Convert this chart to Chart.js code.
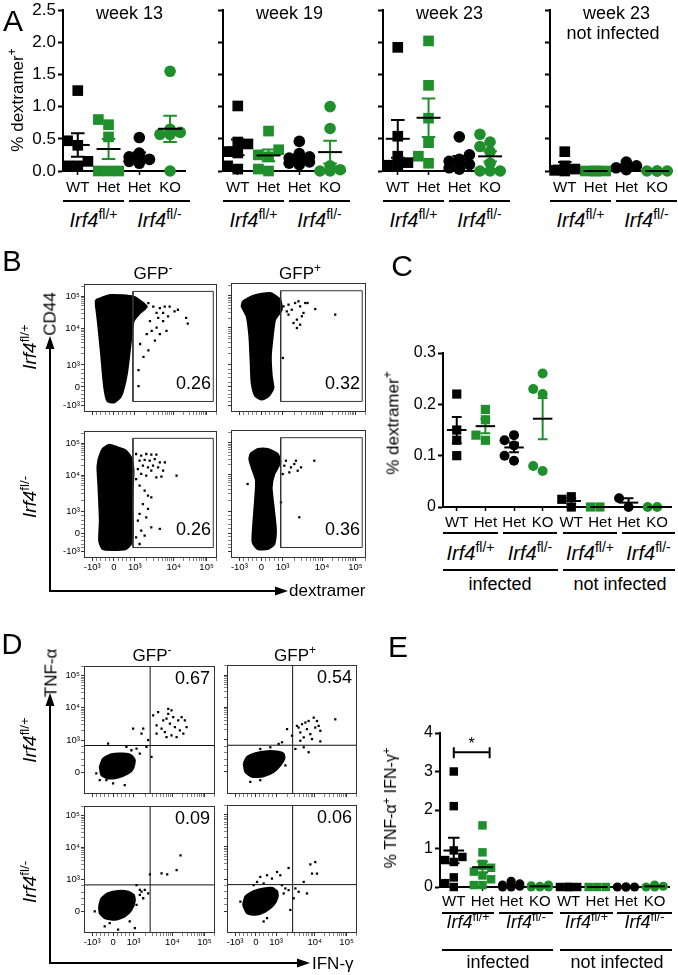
<!DOCTYPE html>
<html>
<head>
<meta charset="utf-8">
<title>Irf4 dextramer</title>
<script src="https://cdn.jsdelivr.net/npm/chart.js@4.4.1/dist/chart.umd.min.js"></script>
<style>
  body { margin: 0; background: #fff; }
  #fig { position: relative; width: 678px; height: 975px; overflow: hidden; background: #fff;
         font-family: 'Liberation Sans', Arial, sans-serif; color: #000; }
  #fig canvas { position: absolute; }
  .t { position: absolute; white-space: nowrap; line-height: 1; }
  .sup { font-size: 0.7em; position: relative; top: -0.55em; }
</style>
</head>
<body>
<div id="fig"></div>
<script>
// ---------- data ----------
const catsA = ['WT', 'Het', 'Het', 'KO'];
const titlesA = ['week 13', 'week 19', 'week 23', 'week 23'];
const yTicksA = [0, 0.5, 1, 1.5, 2, 2.5];
const week13 = [[1.25, 0.47, 0.40, 0.15, 0.08, 0.08], [0.80, 0.72, 0.53, 0, 0, 0],
                [0.52, 0.28, 0.22, 0.20, 0.18, 0.15, 0.12], [1.55, 0.65, 0.60, 0.57, 0.57, 0]];
const week19 = [[1.01, 0.45, 0.42, 0.30, 0.28, 0.08, 0.03], [0.62, 0.33, 0.25, 0.22, 0.03, 0],
                [0.46, 0.27, 0.22, 0.20, 0.17, 0.14, 0.12, 0.10], [1.00, 0.66, 0.08, 0.02, 0, 0]];
const week23 = [[1.92, 0.54, 0.23, 0.13, 0.09, 0.09], [2.02, 1.33, 0.82, 0.44, 0.23, 0.12],
                [0.53, 0.25, 0.18, 0.15, 0.12, 0.10, 0.05, 0.03], [0.57, 0.45, 0.38, 0.30, 0.12, 0, 0, 0]];
const week23ni = [[0.30, 0.08, 0.03, 0.01, 0], [0, 0, 0, 0], [0.14, 0.08, 0.05, 0.02], [0, 0, 0, 0]];

const catsCE = ['WT', 'Het', 'Het', 'KO', 'WT', 'Het', 'Het', 'KO'];
const yTicksC = [0, 0.1, 0.2, 0.3];
const dexC = [[0.22, 0.15, 0.13, 0.10], [0.19, 0.17, 0.14, 0.13], [0.14, 0.13, 0.12, 0.10, 0.09],
              [0.26, 0.23, 0.22, 0.08, 0.07], [0.02, 0.015, 0], [0, 0], [0.017, 0], [0, 0]];
const yTicksE = [0, 1, 2, 3, 4];
const tnfE = [[3.0, 2.1, 0.95, 0.78, 0.70, 0.65, 0.25, 0.10, 0], [1.6, 0.9, 0.6, 0.55, 0.5, 0.4, 0.3, 0.2, 0.05, 0.05],
              [0.15, 0.08, 0.05, 0.03, 0.02, 0, 0], [0.05, 0.03, 0.02, 0, 0, 0],
              [0, 0, 0, 0], [0, 0, 0], [0, 0, 0, 0], [0.05, 0.02, 0, 0]];
const sigE = {from: 0, to: 1.25, y: 3.5, text: '*'};

// flow plots, display channel units 0-1000
const flowTickText = ['-10\u00b3', '0', '10\u00b3', '10\u2074', '10\u2075'];
const bAxisX = [62, 225, 382, 675, 922];
const bAxisY = [51, 195, 367, 652, 902];
const dAxisX = [62, 222, 378, 675, 920];
const dAxisY = [null, 171, 420, 673, 922];
const gateB = [368, 972, 82, 940];
const quadD = [505, 378];
const pctB = ['0.26', '0.32', '0.26', '0.36'];
const pctD = ['0.67', '0.54', '0.09', '0.06'];

const blobB1 = [[89,873],[200,911],[373,898],[472,822],[422,772],[373,708],[353,556],[323,302],[279,124],[225,74],[175,86],[151,200],[126,480],[101,734],[89,835]];
const dotsB1 = [[410,860],[447,835],[484,848],[521,822],[570,810],[607,822],[681,784],[632,746],[595,708],[558,734],[546,657],[509,632],[472,607],[570,607],[620,632],[533,556],[484,480],[422,530],[447,429],[410,327],[410,201],[644,822],[768,734],[780,688],[496,708],[546,772],[595,772],[706,797]];
const blobB2 = [[87,858],[166,902],[290,922],[364,871],[376,793],[327,716],[309,587],[295,432],[302,276],[314,186],[277,121],[228,96],[178,127],[153,225],[146,380],[136,587],[116,742],[79,819]];
const dotsB2 = [[389,819],[426,832],[450,793],[475,845],[500,858],[512,819],[550,845],[567,845],[537,768],[488,716],[463,690],[512,677],[488,651],[525,742],[624,798],[772,755],[384,419],[426,755],[413,780]];
const blobB3 = [[109,777],[139,856],[190,890],[253,869],[316,843],[354,791],[372,686],[367,555],[362,398],[367,215],[354,110],[316,71],[215,63],[139,71],[114,136],[119,293],[109,555],[101,712]];
const dotsB3 = [[392,817],[430,804],[468,817],[506,812],[544,812],[418,764],[456,770],[494,764],[532,777],[570,751],[608,751],[443,725],[481,712],[519,725],[557,712],[595,686],[405,699],[430,660],[468,647],[506,686],[544,634],[582,639],[392,620],[418,568],[456,529],[481,490],[506,476],[443,424],[418,346],[481,385],[468,319],[405,293],[430,215],[506,241],[570,228],[456,175],[392,162],[418,110],[696,647]];
const blobB4 = [[143,813],[198,852],[272,852],[346,813],[365,747],[321,656],[301,552],[316,396],[333,214],[321,109],[272,70],[198,70],[160,122],[165,266],[178,448],[185,604],[153,708],[136,773]];
const dotsB4 = [[407,760],[444,708],[469,734],[494,682],[519,708],[481,760],[617,760],[432,669],[395,721],[370,435],[506,318],[123,578],[383,656]];

const blobD1 = [[120,212],[145,276],[209,310],[298,315],[362,302],[388,264],[375,199],[337,160],[260,129],[184,121],[133,147]];
const dotsD1 = [[528,612],[566,638],[605,574],[630,587],[643,625],[656,548],[681,599],[694,522],[719,574],[732,496],[745,599],[770,574],[783,522],[592,509],[617,483],[668,457],[707,444],[758,470],[554,535],[643,664],[668,651],[452,509],[439,470],[490,419],[477,367],[515,289],[375,509],[184,393],[324,367],[362,341],[401,354],[426,315],[554,470],[630,444],[171,109],[222,83],[311,70],[120,109],[94,160]];
const blobD2 = [[128,235],[154,286],[218,316],[308,332],[385,329],[436,311],[441,273],[410,222],[359,171],[282,138],[192,133],[141,171]];
const dotsD2 = [[538,528],[577,541],[615,503],[564,477],[590,439],[641,464],[667,592],[692,566],[679,515],[705,528],[718,490],[628,566],[833,579],[654,426],[590,362],[628,324],[500,452],[462,503],[423,401],[397,388],[333,362],[256,349],[449,222],[179,94],[256,107],[526,349],[564,413],[718,408],[603,554],[551,515]];
const blobD3 = [[115,208],[133,273],[184,312],[260,330],[337,325],[380,299],[388,252],[362,182],[311,130],[235,104],[158,117],[120,156]];
const dotsD3 = [[503,460],[592,468],[635,460],[707,494],[737,610],[490,312],[464,338],[439,325],[401,377],[426,299],[452,273],[82,169],[158,52],[388,39],[260,26],[401,221],[196,78],[349,91],[426,338]];
const blobD4 = [[123,219],[141,284],[205,327],[282,348],[346,353],[385,327],[390,284],[359,219],[295,168],[218,142],[154,155]];
const dotsD4 = [[256,438],[308,451],[346,425],[385,477],[410,451],[423,374],[449,348],[474,335],[526,348],[551,322],[615,309],[590,399],[641,536],[679,554],[654,464],[692,464],[474,508],[282,387],[231,399],[205,374],[487,180],[308,116],[282,90],[103,245],[436,309],[513,271]];

// ---------- helpers ----------
const FONT = "'Liberation Sans', Arial, 'DejaVu Sans', sans-serif";
const GREEN = '#1e8f2a';
const fig = document.getElementById('fig');

function makeCanvas(a, pad) {
  const c = document.createElement('canvas');
  const w = a.r - a.l + pad.l + pad.r, h = a.b - a.t + pad.t + pad.b;
  c.width = w; c.height = h;
  c.style.left = (a.l - pad.l) + 'px'; c.style.top = (a.t - pad.t) + 'px';
  c.style.width = w + 'px'; c.style.height = h + 'px';
  fig.appendChild(c);
  return c;
}

function label(html, x, y, size, mode) {
  const d = document.createElement('div');
  d.className = 't';
  d.innerHTML = html;
  d.style.left = x + 'px'; d.style.top = y + 'px'; d.style.fontSize = size + 'px';
  if (mode === 'left') d.style.transform = 'translate(0,-50%)';
  else d.style.transform = 'translate(-50%,-50%)' + (mode === 'rot' ? ' rotate(-90deg)' : '');
  fig.appendChild(d);
}

let svgParts = [];
function uline(x1, x2, y) {
  svgParts.push(`<rect x="${x1}" y="${y - 1}" width="${x2 - x1}" height="2" fill="#000"/>`);
}

// simple beeswarm: spread points that would overlap at the same height
function swarm(vals, d, tol) {
  const idx = vals.map((v, i) => i).sort((a, b) => vals[a] - vals[b]);
  const cands = [0, -d, d, -d / 2, d / 2];
  const placed = [], off = [];
  idx.forEach(i => {
    let best = 0, bestHits = Infinity;
    for (const c of cands) {
      const hits = placed.filter(p => Math.abs(p.v - vals[i]) < tol && Math.abs(p.x - c) < d * 0.95).length;
      if (hits < bestHits) { best = c; bestHits = hits; }
      if (hits === 0) break;
    }
    off[i] = best;
    placed.push({v: vals[i], x: best});
  });
  return off;
}

function meanSem(groups, colors, o) {
  return {
    id: 'meanSem',
    afterDatasetsDraw(chart) {
      const {ctx, scales: {x, y}} = chart;
      const unit = x.getPixelForValue(1) - x.getPixelForValue(0);
      ctx.save();
      ctx.lineWidth = 2;
      groups.forEach((vals, i) => {
        const n = vals.length;
        const m = vals.reduce((a, b) => a + b, 0) / n;
        const se = Math.sqrt(vals.reduce((a, b) => a + (b - m) ** 2, 0) / (n - 1) / n);
        const px = x.getPixelForValue(i);
        const yt = y.getPixelForValue(m + se), yb = y.getPixelForValue(Math.max(0, m - se));
        const cw = o.cw * unit, mw = o.mw * unit;
        ctx.strokeStyle = colors[i];
        ctx.beginPath();
        ctx.moveTo(px, yt); ctx.lineTo(px, yb);
        ctx.moveTo(px - cw, yt); ctx.lineTo(px + cw, yt);
        ctx.moveTo(px - cw, yb); ctx.lineTo(px + cw, yb);
        ctx.stroke();
        ctx.strokeStyle = '#000';
        ctx.beginPath();
        ctx.moveTo(px - mw, y.getPixelForValue(m)); ctx.lineTo(px + mw, y.getPixelForValue(m));
        ctx.stroke();
      });
      ctx.restore();
    }
  };
}

const sigPlugin = {
  id: 'sig',
  afterDatasetsDraw(chart) {
    const {ctx, scales: {x, y}} = chart;
    const x0 = x.getPixelForValue(sigE.from), x1 = x.getPixelForValue(sigE.to), yy = y.getPixelForValue(sigE.y);
    ctx.save();
    ctx.strokeStyle = '#000'; ctx.lineWidth = 2;
    ctx.beginPath();
    ctx.moveTo(x0, yy + 6); ctx.lineTo(x0, yy - 5);
    ctx.moveTo(x0, yy); ctx.lineTo(x1, yy);
    ctx.moveTo(x1, yy + 6); ctx.lineTo(x1, yy - 5);
    ctx.stroke();
    ctx.fillStyle = '#000'; ctx.font = '16px ' + FONT; ctx.textAlign = 'center';
    ctx.fillText(sigE.text, (x0 + x1) / 2, yy - 3);
    ctx.restore();
  }
};

function dotChart(area, cats, groups, o) {
  const pad = {l: o.yLab ? 52 : 10, t: 12, r: 3, b: 30};
  const cv = makeCanvas(area, pad);
  const shapes = cats.map((c, i) => i % 4 < 2 ? 'rect' : 'circle');
  const colors = cats.map((c, i) => i % 2 ? GREEN : '#000');
  const datasets = groups.map((vals, i) => {
    const off = swarm(vals, o.d, o.tol);
    return {
      data: vals.map((v, j) => ({x: i + off[j], y: v})),
      pointStyle: shapes[i],
      pointRadius: shapes[i] === 'rect' ? o.r * 1.3 : o.r,
      backgroundColor: colors[i],
      borderWidth: 0,
      clip: false
    };
  });
  const plugins = [meanSem(groups, colors, o)];
  if (o.sig) plugins.push(sigPlugin);
  new Chart(cv, {
    type: 'scatter',
    data: {datasets},
    options: {
      responsive: false, animation: false, events: [],
      layout: {padding: {left: 0, top: pad.t, right: pad.r, bottom: 0}},
      plugins: {legend: {display: false}, tooltip: {enabled: false}},
      scales: {
        x: {
          type: 'linear', min: -0.48, max: cats.length - 0.5,
          afterBuildTicks: s => { s.ticks = cats.map((c, i) => ({value: i})); },
          afterFit: s => { s.height = pad.b; },
          ticks: {callback: (v, i) => cats[i], autoSkip: false, maxRotation: 0, color: '#000',
                  padding: o.xPad, font: {family: FONT, size: o.xFont}},
          grid: {drawOnChartArea: false, tickLength: 4, tickWidth: 1.5, tickColor: '#000'},
          border: {color: '#000', width: 2}
        },
        y: {
          min: 0, max: o.yTicks[o.yTicks.length - 1],
          afterBuildTicks: s => { s.ticks = o.yTicks.map(v => ({value: v})); },
          afterFit: s => { s.width = pad.l; },
          ticks: {display: o.yLab, callback: o.fmt, color: '#000', padding: 2, font: {family: FONT, size: o.yFont}},
          grid: {drawOnChartArea: false, tickLength: 5, tickWidth: 2, tickColor: '#000'},
          border: {color: '#000', width: 2}
        }
      }
    },
    plugins
  });
}

function flowTicks(pos) {
  const t = [];
  pos.forEach((p, k) => { if (p !== null) t.push({value: p, major: true, lab: flowTickText[k]}); });
  for (let k = 0; k < pos.length - 1; k++) {
    const a = pos[k], b = pos[k + 1];
    if (a === null) continue;
    if (k < 2) [0.2, 0.4, 0.6, 0.8].forEach(f => t.push({value: a + f * (b - a), major: false, lab: ''}));
    else for (let m = 2; m <= 9; m++) t.push({value: a + Math.log10(m) * (b - a), major: false, lab: ''});
  }
  const n = pos.length, dec = pos[n - 1] - pos[n - 2];
  for (let m = 2; m <= 9; m++) {
    const v = pos[n - 1] + Math.log10(m) * dec;
    if (v < 1000) t.push({value: v, major: false, lab: ''});
  }
  return t.sort((p, q) => p.value - q.value);
}

const framePlugin = {
  id: 'frame',
  afterDraw(chart, args, o) {
    const {ctx, chartArea: a} = chart;
    ctx.save();
    ctx.strokeStyle = '#333'; ctx.lineWidth = 1;
    ctx.strokeRect(Math.round(a.left) + 0.5, Math.round(a.top) + 0.5, Math.round(a.right - a.left) - 1, Math.round(a.bottom - a.top) - 1);
    ctx.fillStyle = '#000'; ctx.font = '18px ' + FONT; ctx.textAlign = 'right';
    if (o.top) ctx.fillText(o.pct, a.right - 5, a.top + 18);
    else ctx.fillText(o.pct, a.right - 6, a.bottom - 23);
    ctx.restore();
  }
};

const pts = arr => arr.map(p => ({x: p[0], y: p[1]}));

function flowChart(area, o) {
  const pad = {l: o.yLab ? 36 : 16, t: 6, r: 6, b: o.xLab ? 20 : 8};
  const cv = makeCanvas(area, pad);
  const datasets = [];
  if (o.gate) {
    const g = o.gate;
    datasets.push({data: pts([[g[0], g[2]], [g[1], g[2]], [g[1], g[3]], [g[0], g[3]], [g[0], g[2]]]),
                   borderColor: '#333', borderWidth: 1, pointRadius: 0, fill: false});
  }
  if (o.quad) {
    datasets.push({data: pts([[o.quad[0], 0], [o.quad[0], 1000]]), borderColor: '#111', borderWidth: 1, pointRadius: 0, fill: false});
    datasets.push({data: pts([[0, o.quad[1]], [1000, o.quad[1]]]), borderColor: '#111', borderWidth: 1, pointRadius: 0, fill: false});
  }
  datasets.push({data: pts(o.dots), showLine: false, pointStyle: 'rect', pointRadius: 1.6, backgroundColor: '#000', borderWidth: 0});
  datasets.push({data: pts(o.blob.concat([o.blob[0]])), fill: 'shape', backgroundColor: '#000', borderColor: '#000',
                 borderWidth: 2, tension: 0.2, pointRadius: 0});
  const axis = (pos, isX, showLab) => ({
    type: 'linear', min: 0, max: 1000,
    afterBuildTicks: s => { s.ticks = flowTicks(pos); },
    afterFit: s => { if (isX) s.height = pad.b; else s.width = pad.l; },
    ticks: {display: showLab, autoSkip: false, maxRotation: 0, padding: 1, color: '#000',
            callback: (v, i, t) => t[i].lab, font: {family: FONT, size: 9.5}},
    grid: {drawOnChartArea: false, tickLength: 3, tickColor: '#333',
           tickWidth: c => (c.tick && c.tick.major) ? 1 : 0.6},
    border: {display: false}
  });
  new Chart(cv, {
    type: 'line',
    data: {datasets},
    options: {
      responsive: false, animation: false, events: [],
      layout: {padding: {left: 0, top: pad.t, right: pad.r, bottom: 0}},
      plugins: {legend: {display: false}, tooltip: {enabled: false}, frame: {pct: o.pct, top: !!o.quad}},
      scales: {x: axis(o.ax, true, o.xLab), y: axis(o.ay, false, o.yLab)}
    },
    plugins: [framePlugin]
  });
}

// ---------- panel A ----------
const areasA = [{l: 63, t: 10, r: 190, b: 171}, {l: 223, t: 10, r: 350, b: 171},
                {l: 383, t: 10, r: 510, b: 171}, {l: 550, t: 10, r: 677, b: 171}];
[week13, week19, week23, week23ni].forEach((g, i) => {
  dotChart(areasA[i], catsA, g, {yLab: i === 0, yTicks: yTicksA, fmt: v => v.toFixed(1),
    d: 0.33, tol: 0.15, r: 5.8, mw: 0.39, cw: 0.22, xPad: 4, xFont: 15, yFont: 17});
});
const irfP = '<i>Irf4</i><span class="sup">fl/+</span>';
const irfM = '<i>Irf4</i><span class="sup">fl/-</span>';
label('A', 13, 21, 30);
label('% dextramer<span class="sup">+</span>', 17, 100, 17, 'rot');
areasA.forEach((a, i) => {
  label(titlesA[i], (a.l + a.r) / 2 + 3, 13, 18);
  uline(a.l, a.l + 61, 201); uline(a.l + 66, a.r, 201);
  label(irfP, a.l + 30.5, 220, 20);
  label(irfM, (a.l + 66 + a.r) / 2, 220, 20);
});
label('not infected', 613, 33, 18);

// ---------- panel B ----------
flowChart({l: 84, t: 283, r: 217, b: 412}, {blob: blobB1, dots: dotsB1, gate: gateB, pct: pctB[0], ax: bAxisX, ay: bAxisY, xLab: false, yLab: true});
flowChart({l: 231, t: 283, r: 366, b: 412}, {blob: blobB2, dots: dotsB2, gate: gateB, pct: pctB[1], ax: bAxisX, ay: bAxisY, xLab: false, yLab: false});
flowChart({l: 84, t: 430, r: 217, b: 558}, {blob: blobB3, dots: dotsB3, gate: gateB, pct: pctB[2], ax: bAxisX, ay: bAxisY, xLab: true, yLab: true});
flowChart({l: 231, t: 430, r: 366, b: 558}, {blob: blobB4, dots: dotsB4, gate: gateB, pct: pctB[3], ax: bAxisX, ay: bAxisY, xLab: true, yLab: false});
label('B', 12, 261, 29);
label('GFP<span class="sup">-</span>', 153, 273, 17);
label('GFP<span class="sup">+</span>', 300, 273, 17);
label(irfP, 29, 347, 19, 'rot');
label(irfM, 29, 497, 19, 'rot');
label('CD44', 50, 314, 17, 'rot');
label('dextramer', 289, 590, 17, 'left');

// ---------- panel C ----------
dotChart({l: 443, t: 353, r: 675, b: 507}, catsCE, dexC, {yLab: true, yTicks: yTicksC,
  fmt: v => v === 0 ? '0' : v.toFixed(1), d: 0.33, tol: 0.0175, r: 5, mw: 0.34, cw: 0.17, xPad: 3, xFont: 15, yFont: 16});
label('C', 402, 266, 30);
label('% dextramer<span class="sup">+</span>', 393, 423, 17, 'rot');
[[443, 498], [503, 557], [563, 617], [622, 675]].forEach((s, i) => {
  uline(s[0], s[1], 533);
  label(i % 2 ? irfM : irfP, (s[0] + s[1]) / 2, 553, 20);
});
uline(443, 558, 570); uline(563, 675, 570);
label('infected', 500, 584, 18);
label('not infected', 620, 584, 18);

// ---------- panel D ----------
flowChart({l: 84, t: 665, r: 215, b: 794}, {blob: blobD1, dots: dotsD1, quad: quadD, pct: pctD[0], ax: dAxisX, ay: dAxisY, xLab: false, yLab: true});
flowChart({l: 227, t: 665, r: 357, b: 794}, {blob: blobD2, dots: dotsD2, quad: quadD, pct: pctD[1], ax: dAxisX, ay: dAxisY, xLab: false, yLab: false});
flowChart({l: 84, t: 805, r: 215, b: 933}, {blob: blobD3, dots: dotsD3, quad: quadD, pct: pctD[2], ax: dAxisX, ay: dAxisY, xLab: true, yLab: true});
flowChart({l: 227, t: 805, r: 357, b: 933}, {blob: blobD4, dots: dotsD4, quad: quadD, pct: pctD[3], ax: dAxisX, ay: dAxisY, xLab: true, yLab: false});
label('D', 12, 644, 29);
label('GFP<span class="sup">-</span>', 152, 655, 17);
label('GFP<span class="sup">+</span>', 295, 655, 17);
label(irfP, 29, 740, 19, 'rot');
label(irfM, 29, 882, 19, 'rot');
label('TNF-\u03b1', 51, 673, 17, 'rot');
label('IFN-\u03b3', 312, 963, 17, 'left');

// ---------- panel E ----------
dotChart({l: 440, t: 733, r: 672, b: 887}, catsCE, tnfE, {yLab: true, yTicks: yTicksE,
  fmt: v => String(v), d: 0.3, tol: 0.22, r: 4.6, mw: 0.36, cw: 0.2, xPad: 2, xFont: 15, yFont: 16, sig: true});
label('E', 398, 647, 30);
label('% TNF-\u03b1<span class="sup">+</span> IFN-\u03b3<span class="sup">+</span>', 391, 808, 16, 'rot');
[[442, 494], [499, 553], [560, 613], [617, 672]].forEach((s, i) => {
  uline(s[0], s[1], 913);
  label(i % 2 ? irfM : irfP, (s[0] + s[1]) / 2, 922, 18);
});
uline(442, 553, 950); uline(560, 672, 950);
label('infected', 498, 962, 18);
label('not infected', 617, 962, 18);

// ---------- arrows ----------
svgParts.push('<path d="M50 345 V591 H280" stroke="#000" stroke-width="2" fill="none"/>');
svgParts.push('<path d="M50 336 L45.5 349 L54.5 349 Z" fill="#000"/>');
svgParts.push('<path d="M288 591 L275 586.5 L275 595.5 Z" fill="#000"/>');
svgParts.push('<path d="M50 702 V963 H302" stroke="#000" stroke-width="2" fill="none"/>');
svgParts.push('<path d="M50 693 L45.5 706 L54.5 706 Z" fill="#000"/>');
svgParts.push('<path d="M310 963 L297 958.5 L297 967.5 Z" fill="#000"/>');
const svg = document.createElementNS('http://www.w3.org/2000/svg', 'svg');
svg.setAttribute('width', 678); svg.setAttribute('height', 975);
svg.style.position = 'absolute'; svg.style.left = '0'; svg.style.top = '0';
svg.innerHTML = svgParts.join('');
fig.insertBefore(svg, fig.firstChild);
</script>
</body>
</html>
